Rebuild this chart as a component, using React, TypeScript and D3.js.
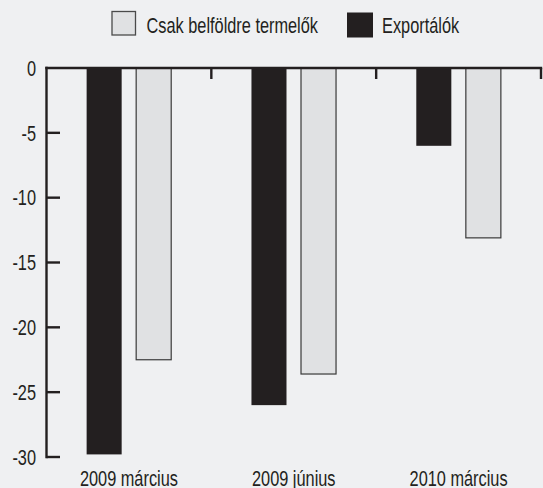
import * as d3 from "d3";

const categories = ["2009 március", "2009 június", "2010 március"];
const seriesNames = ["Exportálók", "Csak belföldre termelők"];
const exporters = [-29.8, -26.0, -6.0];
const domesticOnly = [-22.5, -23.6, -13.1];
const yTicks = [0, -5, -10, -15, -20, -25, -30];

const FONT = "'Liberation Sans', Arial, sans-serif";
const BG = "#eff0f2";
const DARK = "#231f20";
const LIGHT = "#e0e1e3";
// the source uses a condensed face; squeeze Liberation Sans horizontally instead
const SQUEEZE = 0.76;
const FS = 21.5;

const width = 543;
const height = 488;
const plot = { left: 46.5, right: 541, top: 68, bottom: 457 };

function NarrowText(props: {
  x: number;
  y: number;
  anchor?: "start" | "middle" | "end";
  dy?: string;
  children: string;
}) {
  return (
    <text
      transform={`translate(${props.x},${props.y}) scale(${SQUEEZE},1)`}
      textAnchor={props.anchor ?? "start"}
      dy={props.dy}
      fontSize={FS}
      fill={DARK}
    >
      {props.children}
    </text>
  );
}

export default function App() {
  const rows = categories.map((c, i) => ({
    category: c,
    values: [
      { series: seriesNames[0], value: exporters[i] },
      { series: seriesNames[1], value: domesticOnly[i] },
    ],
  }));

  const x0 = d3.scaleBand().domain(categories).range([plot.left, plot.right]).padding(0);
  const x1 = d3
    .scaleBand()
    .domain(seriesNames)
    .range([0, x0.bandwidth()])
    .paddingInner(0.293)
    .paddingOuter(0.81);
  const y = d3.scaleLinear().domain([0, -30]).range([plot.top, plot.bottom]);

  const color = d3.scaleOrdinal<string, string>().domain(seriesNames).range([DARK, LIGHT]);

  // tick positions on the x axis sit at each band boundary
  const xTickPos = categories.map((c) => (x0(c) ?? 0) + x0.bandwidth());

  return (
    <div style={{ position: "absolute", left: 0, top: 0 }}>
      <svg width={width} height={height} style={{ display: "block", background: BG, fontFamily: FONT }}>
        <rect width={width} height={height} fill={BG} />

        {/* Legend */}
        <g>
          <rect x={112} y={11.5} width={23.5} height={23.5} fill={LIGHT} stroke="#4a4a4a" strokeWidth={1.3} />
          <NarrowText x={146.5} y={33}>{seriesNames[1]}</NarrowText>
          <rect x={347} y={12.5} width={26} height={25} fill={DARK} />
          <NarrowText x={382} y={33}>{seriesNames[0]}</NarrowText>
        </g>

        {/* Bars */}
        {rows.map((r) => (
          <g key={r.category} transform={`translate(${x0(r.category)},0)`}>
            {r.values.map((v) => {
              const isLight = v.series === seriesNames[1];
              return (
                <rect
                  key={v.series}
                  x={x1(v.series)}
                  y={y(0)}
                  width={x1.bandwidth()}
                  height={y(v.value) - y(0)}
                  fill={color(v.series)}
                  stroke={isLight ? "#3a3a3a" : "none"}
                  strokeWidth={isLight ? 1.2 : 0}
                />
              );
            })}
          </g>
        ))}

        {/* Y axis */}
        <line x1={plot.left} x2={plot.left} y1={plot.top - 1.2} y2={plot.bottom + 1.2} stroke={DARK} strokeWidth={2.4} />
        {yTicks.map((t) => (
          <g key={t}>
            {t !== 0 && (
              <line x1={plot.left} x2={plot.left + 13.5} y1={y(t)} y2={y(t)} stroke={DARK} strokeWidth={2.4} />
            )}
            <NarrowText x={36} y={y(t)} dy="0.36em" anchor="end">
              {t === 0 ? "0" : `-${Math.abs(t)}`}
            </NarrowText>
          </g>
        ))}

        {/* X axis at zero */}
        <line x1={plot.left - 1.2} x2={plot.right + 1.2} y1={y(0)} y2={y(0)} stroke={DARK} strokeWidth={2.4} />
        {xTickPos.map((px, i) => (
          <line key={i} x1={px} x2={px} y1={y(0)} y2={y(0) + 11} stroke={DARK} strokeWidth={2.4} />
        ))}
        {categories.map((c) => (
          <NarrowText key={c} x={(x0(c) ?? 0) + x0.bandwidth() / 2} y={486} anchor="middle">
            {c}
          </NarrowText>
        ))}
      </svg>
    </div>
  );
}
